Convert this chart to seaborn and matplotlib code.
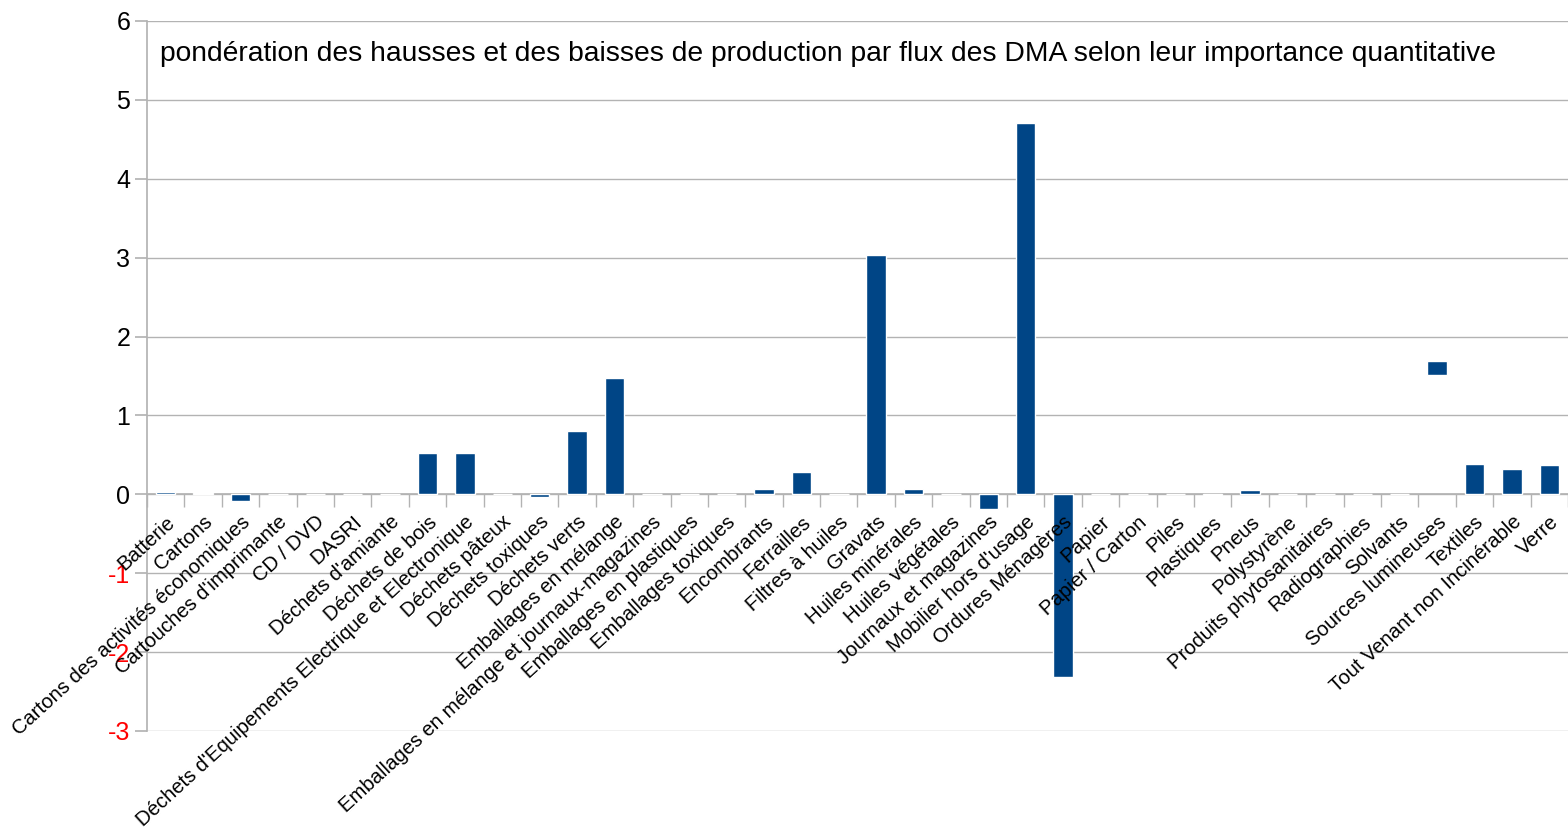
import matplotlib
matplotlib.use("Agg")
import pandas as pd
import matplotlib.pyplot as plt
import seaborn as sns
from matplotlib.ticker import FixedLocator

# Categories (flux des DMA) and weighted change values
categories = [
    "Batterie", "Cartons", "Cartons des activités économiques",
    "Cartouches d'imprimante", "CD / DVD", "DASRI", "Déchets d'amiante",
    "Déchets de bois", "Déchets d'Equipements Electrique et Electronique",
    "Déchets pâteux", "Déchets toxiques", "Déchets verts",
    "Emballages en mélange", "Emballages en mélange et journaux-magazines",
    "Emballages en plastiques", "Emballages toxiques", "Encombrants",
    "Ferrailles", "Filtres à huiles", "Gravats", "Huiles minérales",
    "Huiles végétales", "Journaux et magazines", "Mobilier hors d'usage",
    "Ordures Ménagères", "Papier", "Papier / Carton", "Piles", "Plastiques",
    "Pneus", "Polystyrène", "Produits phytosanitaires", "Radiographies",
    "Solvants", "Sources lumineuses", "Textiles",
    "Tout Venant non Incinérable", "Verre",
]
values = [
    0.025, 0.013, -0.08,
    0.0, 0.0, 0.0, 0.01,
    0.52, 0.52,
    0.0, -0.03, 0.80,
    1.48, 0.0,
    0.0, 0.0, 0.07,
    0.28, 0.0, 3.03, 0.07,
    0.01, -0.19, 4.71,
    -2.31, 0.0, 0.0, 0.01, -0.01,
    0.06, 0.0, 0.0, 0.01,
    0.0, 1.69, 0.38,
    0.32, 0.37,
]
# one bar is shown floating (only its upper part is visible)
floating = {"Sources lumineuses": 1.51}

title = ("pondération des hausses et des baisses de production par flux "
         "des DMA selon leur importance quantitative")

bar_color = "#004586"
grid_color = "#b3b3b3"

sns.set_theme(style="white")
plt.rcParams["font.family"] = ["Liberation Sans", "DejaVu Sans"]
plt.rcParams["text.color"] = "black"
plt.rcParams["xtick.color"] = "black"
plt.rcParams["ytick.color"] = "black"
plt.rcParams["axes.unicode_minus"] = False

df = pd.DataFrame({"flux": categories, "valeur": values})
df["main"] = df["valeur"].where(~df["flux"].isin(list(floating)))

fig = plt.figure(figsize=(15.68, 8.27), dpi=100)
ax = fig.add_axes([147 / 1568, 1 - 731 / 827, 1 - 147 / 1568, (731 - 21) / 827])

bar_w = 0.52
sns.barplot(data=df, x="flux", y="main", color=bar_color, width=bar_w,
            saturation=1, ax=ax, zorder=3)
for name, low in floating.items():
    i = categories.index(name)
    ax.bar(i, values[i] - low, bottom=low, width=bar_w, color=bar_color, zorder=3)

ax.set_xlim(-0.5, len(categories) - 0.5)
ax.set_ylim(-3, 6)
ax.set_yticks(range(-3, 7))
ax.yaxis.grid(True, color=grid_color, linewidth=1)
ax.set_axisbelow(True)
ax.xaxis.set_zorder(4)  # category labels drawn over the bars, like the original
ax.set_xlabel("")
ax.set_ylabel("")

for s in ["top", "right"]:
    ax.spines[s].set_visible(False)
ax.spines["left"].set_color(grid_color)
ax.spines["bottom"].set_color(grid_color)
ax.spines["bottom"].set_position(("data", 0))

ax.tick_params(axis="y", which="major", left=True, length=9, color=grid_color,
               labelsize=18, pad=3)
for lbl, v in zip(ax.get_yticklabels(), range(-3, 7)):
    lbl.set_color("red" if v < 0 else "black")

ax.set_xticks(range(len(categories)))
ax.set_xticklabels(categories, rotation=42.5, ha="right", va="top",
                   rotation_mode="anchor", fontsize=14.6)
ax.tick_params(axis="x", which="major", length=0, pad=13)
ax.xaxis.set_minor_locator(FixedLocator([i - 0.5 for i in range(len(categories) + 1)]))
ax.tick_params(axis="x", which="minor", bottom=True, length=9, color=grid_color)

ax.text(13 / 1421, (731 - 54) / 710, title, transform=ax.transAxes,
        fontsize=20.3, va="center", ha="left", zorder=5)

fig.savefig("out.png", dpi=100)
